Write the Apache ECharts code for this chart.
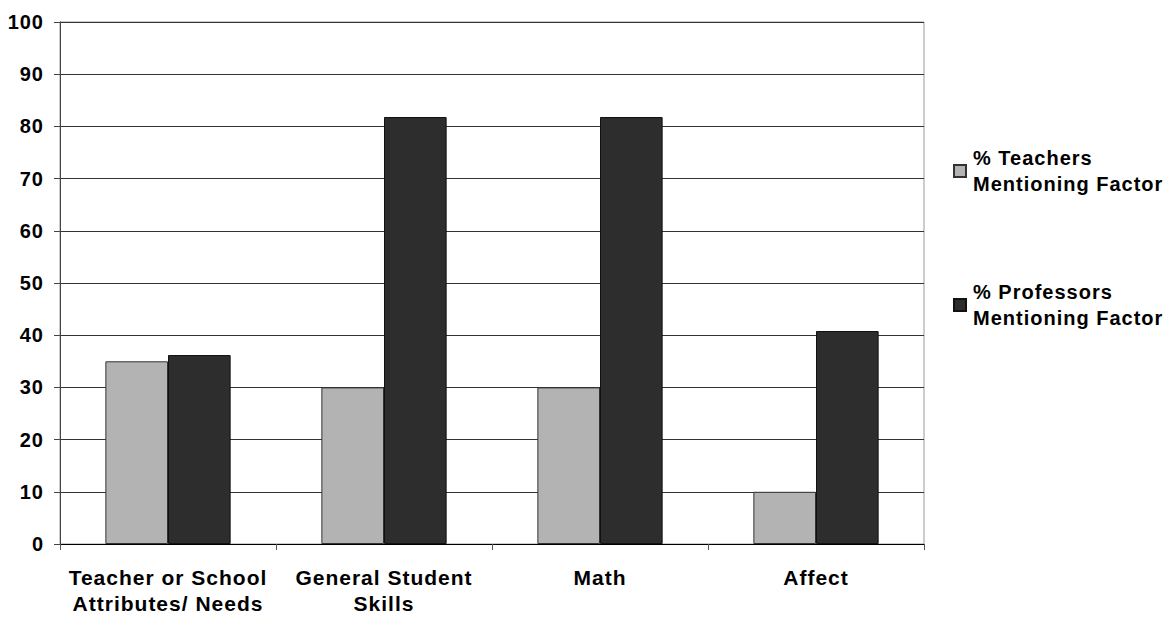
<!DOCTYPE html>
<html>
<head>
<meta charset="utf-8">
<title>Factors mentioned by teachers and professors</title>
<script src="https://cdn.jsdelivr.net/npm/echarts@6/dist/echarts.min.js"></script>
<style>
  html, body { margin: 0; padding: 0; background: #fff; }
  #chart { width: 1169px; height: 618px; }
  /* slightly spaced lettering, as in the printed figure */
  #chart svg text { letter-spacing: 1px; }
</style>
</head>
<body>
<div id="chart"></div>
<script>
// Categories of factors
const categories = [
  'Teacher or School\nAttributes/ Needs',
  'General Student\nSkills',
  'Math',
  'Affect'
];

// Series names
const teacherSeriesName = '% Teachers\nMentioning Factor';
const professorSeriesName = '% Professors\nMentioning Factor';

// Percent of respondents mentioning each factor
const teacherValues = [35, 30, 30, 10];
const professorValues = [36.2, 81.8, 81.8, 40.8];

// Value axis range
const yMin = 0;
const yMax = 100;
const yStep = 10;

const FONT = "'Liberation Sans', Arial, Helvetica, sans-serif";

const chart = echarts.init(document.getElementById('chart'), null, { renderer: 'svg' });

chart.setOption({
  animation: false,
  backgroundColor: '#ffffff',
  grid: {
    left: 60,
    top: 22,
    right: 245,
    bottom: 74,
    show: true,
    borderColor: '#999999',
    borderWidth: 1,
    backgroundColor: 'transparent'
  },
  legend: {
    orient: 'vertical',
    left: 948,
    top: 127,
    itemWidth: 12,
    itemHeight: 12,
    itemGap: 56,
    icon: 'rect',
    selectedMode: false,
    textStyle: {
      fontFamily: FONT,
      fontWeight: 'bold',
      fontSize: 20,
      color: '#000',
      lineHeight: 26,
      padding: [26, 0, 0, 2]
    },
    data: [teacherSeriesName, professorSeriesName]
  },
  xAxis: {
    type: 'category',
    data: categories,
    boundaryGap: true,
    axisLine: { lineStyle: { color: '#000', width: 1 } },
    axisTick: { show: true, alignWithLabel: false, length: 6, lineStyle: { color: '#555' } },
    axisLabel: {
      fontFamily: FONT,
      fontWeight: 'bold',
      fontSize: 21,
      color: '#000',
      lineHeight: 26,
      margin: 20,
      interval: 0
    },
    splitLine: { show: false }
  },
  yAxis: {
    type: 'value',
    min: yMin,
    max: yMax,
    interval: yStep,
    axisLine: { show: true, lineStyle: { color: '#444', width: 1 } },
    axisTick: { show: true, length: 6, lineStyle: { color: '#444' } },
    axisLabel: {
      fontFamily: FONT,
      fontWeight: 'bold',
      fontSize: 20,
      color: '#000',
      margin: 16
    },
    splitLine: { show: true, lineStyle: { color: '#333', width: 1 } }
  },
  series: [
    {
      name: teacherSeriesName,
      type: 'bar',
      data: teacherValues,
      barGap: '0%',
      barCategoryGap: '42%',
      itemStyle: { color: '#b3b3b3', borderColor: '#333', borderWidth: 1 }
    },
    {
      name: professorSeriesName,
      type: 'bar',
      data: professorValues,
      barGap: '0%',
      barCategoryGap: '42%',
      itemStyle: { color: '#2d2d2d', borderColor: '#111', borderWidth: 1 }
    }
  ]
});
</script>
</body>
</html>
